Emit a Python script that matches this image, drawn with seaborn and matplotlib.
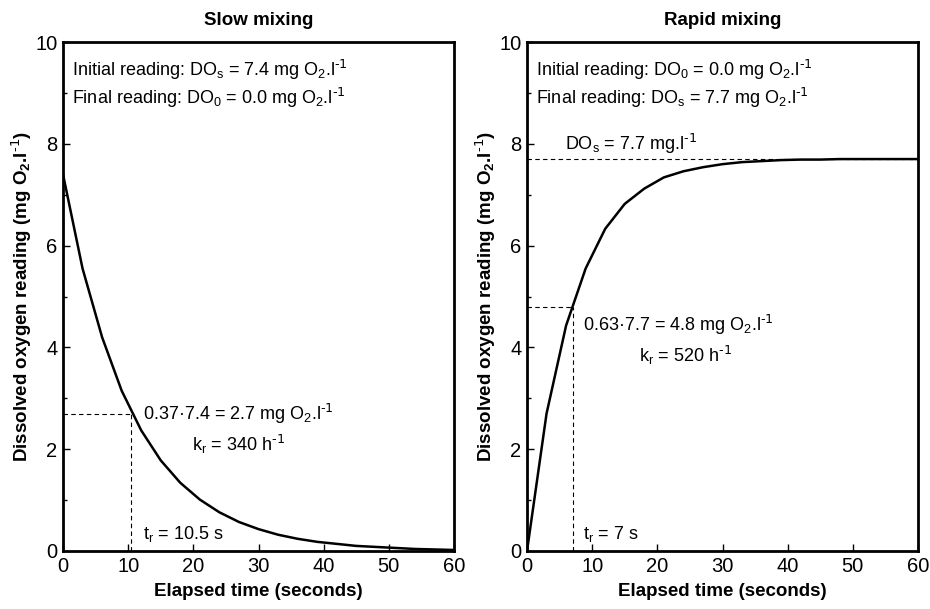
import matplotlib
matplotlib.use("Agg")
import matplotlib.pyplot as plt
import seaborn as sns
import pandas as pd
from matplotlib.ticker import MultipleLocator

sns.set_style("ticks")
plt.rcParams['font.family'] = ['Liberation Sans', 'DejaVu Sans']
plt.rcParams['mathtext.default'] = 'regular'
plt.rcParams['xtick.direction'] = 'in'
plt.rcParams['ytick.direction'] = 'in'
plt.rcParams['text.color'] = 'black'
plt.rcParams['axes.labelcolor'] = 'black'
plt.rcParams['xtick.color'] = 'black'
plt.rcParams['ytick.color'] = 'black'

# Data
time_slow = [0, 3, 6, 9, 12, 15, 18, 21, 24, 27, 30, 33, 36, 39, 42, 45, 48, 51, 54, 57, 60]
do_slow = [7.4, 5.55, 4.2, 3.15, 2.37, 1.78, 1.34, 1.01, 0.76, 0.57, 0.43, 0.32, 0.24, 0.18,
           0.14, 0.10, 0.08, 0.06, 0.04, 0.03, 0.02]
time_rapid = [0, 3, 6, 9, 12, 15, 18, 21, 24, 27, 30, 33, 36, 39, 42, 45, 48, 51, 54, 57, 60]
do_rapid = [0.0, 2.7, 4.43, 5.55, 6.33, 6.82, 7.12, 7.34, 7.46, 7.54, 7.6, 7.64, 7.66, 7.68,
            7.69, 7.69, 7.7, 7.7, 7.7, 7.7, 7.7]

slow_tr, slow_level = 10.5, 2.7
rapid_tr, rapid_level = 7.0, 4.8
rapid_dos = 7.7

df_slow = pd.DataFrame({"t": time_slow, "do": do_slow})
df_rapid = pd.DataFrame({"t": time_rapid, "do": do_rapid})

fig = plt.figure(figsize=(9.3, 6.09), dpi=100)
ax1 = fig.add_axes([63/930, 1 - 551/609, 391/930, 509/609])
ax2 = fig.add_axes([527/930, 1 - 551/609, 391/930, 509/609])

fs = 13
lfs = 13.5
for ax, df, title in [(ax1, df_slow, "Slow mixing"), (ax2, df_rapid, "Rapid mixing")]:
    sns.lineplot(data=df, x="t", y="do", ax=ax, color="black", linewidth=1.8)
    ax.set_xlim(0, 60)
    ax.set_ylim(0, 10)
    ax.xaxis.set_major_locator(MultipleLocator(10))
    ax.yaxis.set_major_locator(MultipleLocator(2))
    ax.yaxis.set_minor_locator(MultipleLocator(1))
    ax.tick_params(which="major", length=5, width=1, labelsize=14.5, pad=4)
    ax.tick_params(which="minor", length=3, width=1)
    for s in ax.spines.values():
        s.set_linewidth(2)
        s.set_color("black")
    ax.set_title(title, fontsize=lfs, fontweight="bold", pad=12)
    ax.set_xlabel("Elapsed time (seconds)", fontsize=lfs, fontweight="bold", labelpad=5)
    ax.set_ylabel("Dissolved oxygen reading (mg O$_2$.l$^{\\text{-1}}$)", fontsize=lfs,
                  fontweight="bold", labelpad=1)

dash = dict(color="black", linestyle=(0, (4, 3)), linewidth=0.8)
inv = "l$^{\\text{-1}}$"
hinv = "h$^{\\text{-1}}$"

# Left panel annotations
ax1.plot([0, slow_tr], [slow_level, slow_level], **dash)
ax1.plot([slow_tr, slow_tr], [0, slow_level], **dash)
ax1.text(1.4, 9.45, "Initial reading: DO$_s$ = 7.4 mg O$_2$." + inv, fontsize=fs, va="center")
ax1.text(1.4, 8.9, "Final reading: DO$_0$ = 0.0 mg O$_2$." + inv, fontsize=fs, va="center")
ax1.text(12.2, 2.7, "0.37·7.4 = 2.7 mg O$_2$." + inv, fontsize=fs, va="center")
ax1.text(19.8, 2.1, "k$_r$ = 340 " + hinv, fontsize=fs, va="center")
ax1.text(12.3, 0.33, "t$_r$ = 10.5 s", fontsize=fs, va="center")

# Right panel annotations
ax2.plot([0, 60], [rapid_dos, rapid_dos], **dash)
ax2.plot([0, rapid_tr], [rapid_level, rapid_level], **dash)
ax2.plot([rapid_tr, rapid_tr], [0, rapid_level], **dash)
ax2.text(1.4, 9.45, "Initial reading: DO$_0$ = 0.0 mg O$_2$." + inv, fontsize=fs, va="center")
ax2.text(1.4, 8.9, "Final reading: DO$_s$ = 7.7 mg O$_2$." + inv, fontsize=fs, va="center")
ax2.text(5.8, 8.0, "DO$_s$ = 7.7 mg." + inv, fontsize=fs, va="center")
ax2.text(8.6, 4.45, "0.63·7.7 = 4.8 mg O$_2$." + inv, fontsize=fs, va="center")
ax2.text(17.2, 3.85, "k$_r$ = 520 " + hinv, fontsize=fs, va="center")
ax2.text(8.6, 0.33, "t$_r$ = 7 s", fontsize=fs, va="center")

fig.savefig("out.png", dpi=100)
